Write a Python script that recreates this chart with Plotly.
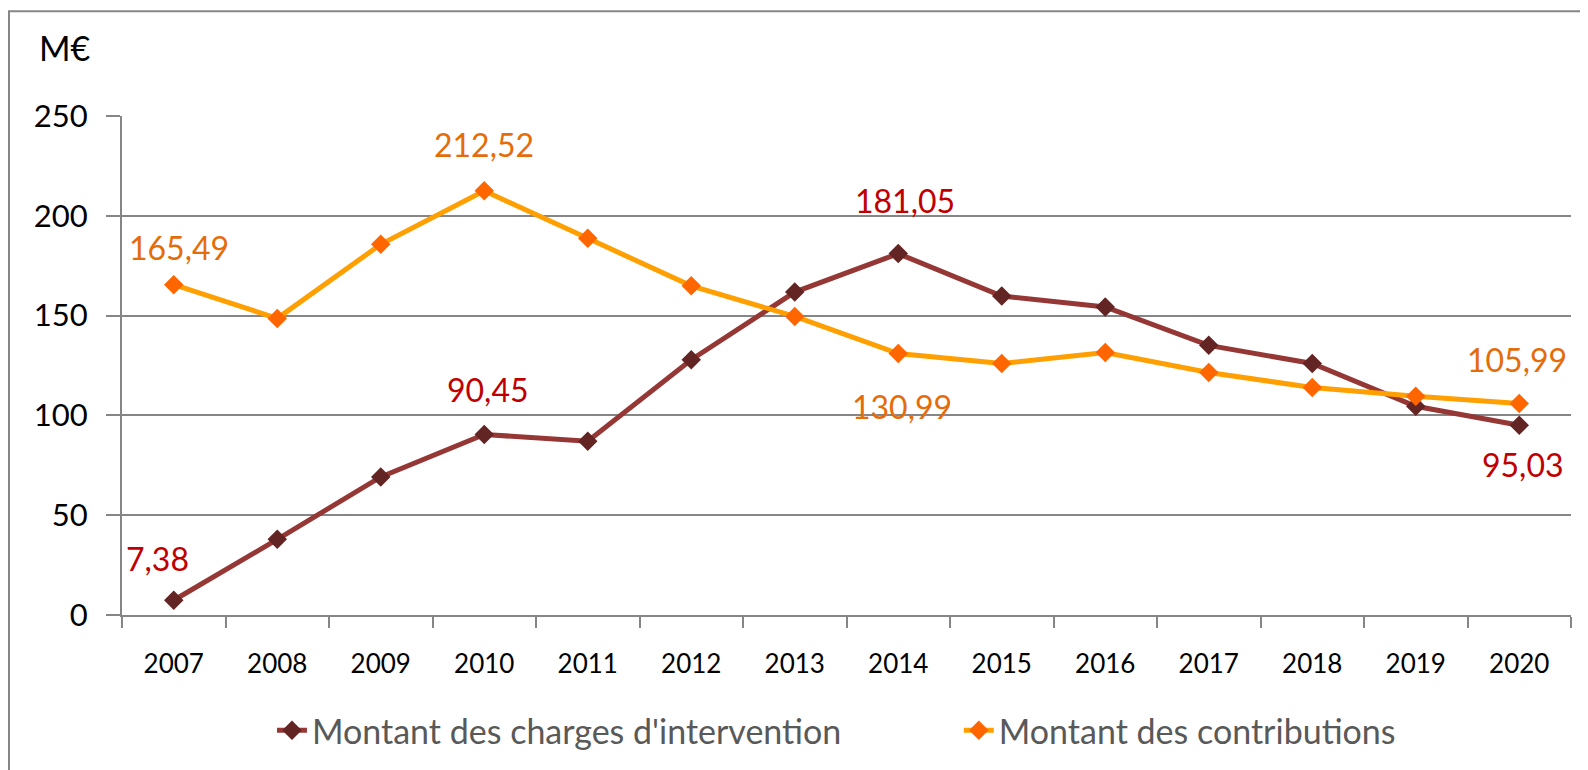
import plotly.graph_objects as go

years = ["2007", "2008", "2009", "2010", "2011", "2012", "2013",
         "2014", "2015", "2016", "2017", "2018", "2019", "2020"]
charges = [7.38, 37.9, 69.2, 90.45, 87.1, 127.9, 161.8,
           181.05, 159.8, 154.3, 135.1, 126.0, 104.6, 95.03]
contributions = [165.49, 148.6, 185.7, 212.52, 188.7, 164.9, 149.6,
                 130.99, 126.0, 131.5, 121.5, 114.0, 109.6, 105.99]
y_ticks = [0, 50, 100, 150, 200, 250]

name_charges = "Montant des charges d'intervention"
name_contrib = "Montant des contributions"

# labelled points per series (years)
labels_charges = ["2007", "2010", "2014", "2020"]
labels_contrib = ["2007", "2010", "2014", "2020"]
# label offsets in pixels (xshift, yshift)
off_charges = [(-16, 42), (4, 45), (7, 53), (4, -39)]
off_contrib = [(5, 37), (0, 46), (4, -53), (-2, 44)]

def fmt(v):
    return f"{v:.2f}".replace(".", ",")

fig = go.Figure()
fig.add_trace(go.Scatter(
    x=years, y=charges, name=name_charges, mode="lines+markers",
    line=dict(color="#953735", width=5),
    marker=dict(symbol="diamond", size=15, color="#632523"),
    legend="legend",
))
fig.add_trace(go.Scatter(
    x=years, y=contributions, name=name_contrib, mode="lines+markers",
    line=dict(color="#FF9F00", width=5),
    marker=dict(symbol="diamond", size=15, color="#FF6600"),
    legend="legend2",
))

annotations = []
for yr, (dx, dy) in zip(labels_charges, off_charges):
    i = years.index(yr)
    v = charges[i]
    annotations.append(dict(x=i, y=v, xref="x", yref="y", text=fmt(v),
                            showarrow=False, xshift=dx, yshift=dy,
                            font=dict(family="Lato", size=32, color="#C00000")))
for yr, (dx, dy) in zip(labels_contrib, off_contrib):
    i = years.index(yr)
    v = contributions[i]
    annotations.append(dict(x=i, y=v, xref="x", yref="y", text=fmt(v),
                            showarrow=False, xshift=dx, yshift=dy,
                            font=dict(family="Lato", size=32, color="#E46C0A")))
annotations.append(dict(x=-0.0393, y=1.1376, xref="paper", yref="paper",
                        text="M€", showarrow=False, xanchor="center", yanchor="middle",
                        font=dict(family="Lato", size=34, color="#000000")))

legend_font = dict(family="Lato", size=34, color="#595959")

fig.update_layout(
    width=1580, height=762,
    margin=dict(l=114, r=17, t=108, b=155, autoexpand=False),
    paper_bgcolor="white", plot_bgcolor="white",
    font=dict(family="Lato", color="#000000"),
    showlegend=True,
    legend=dict(orientation="h", x=0.1035, y=-0.232, xanchor="left", yanchor="middle",
                font=legend_font, bgcolor="rgba(0,0,0,0)"),
    legend2=dict(orientation="h", x=0.5775, y=-0.232, xanchor="left", yanchor="middle",
                 font=legend_font, bgcolor="rgba(0,0,0,0)"),
    annotations=annotations,
    shapes=[dict(type="rect", xref="paper", yref="paper",
                 x0=-0.078, x1=1.05, y0=-0.4, y1=1.2097,
                 line=dict(color="#868686", width=2), fillcolor="rgba(0,0,0,0)",
                 layer="below")],
)
fig.update_xaxes(
    type="category", range=[-0.5, len(years) - 0.5],
    tickson="boundaries", ticks="outside", ticklen=11,
    tickcolor="#868686", tickwidth=2, tickangle=0,
    showline=True, linecolor="#868686", linewidth=2,
    showgrid=False, tickfont=dict(family="Lato", size=26, color="#000000"),
    ticklabelstandoff=25,
)
fig.update_yaxes(
    range=[0, 250], tickvals=y_ticks, ticks="outside", ticklen=14,
    tickcolor="#868686", tickwidth=2,
    showline=True, linecolor="#868686", linewidth=2,
    showgrid=True, gridcolor="#868686", gridwidth=2, zeroline=False,
    tickfont=dict(family="Lato", size=31, color="#000000"),
    ticklabelstandoff=12,
)

fig.write_html("out.html")
